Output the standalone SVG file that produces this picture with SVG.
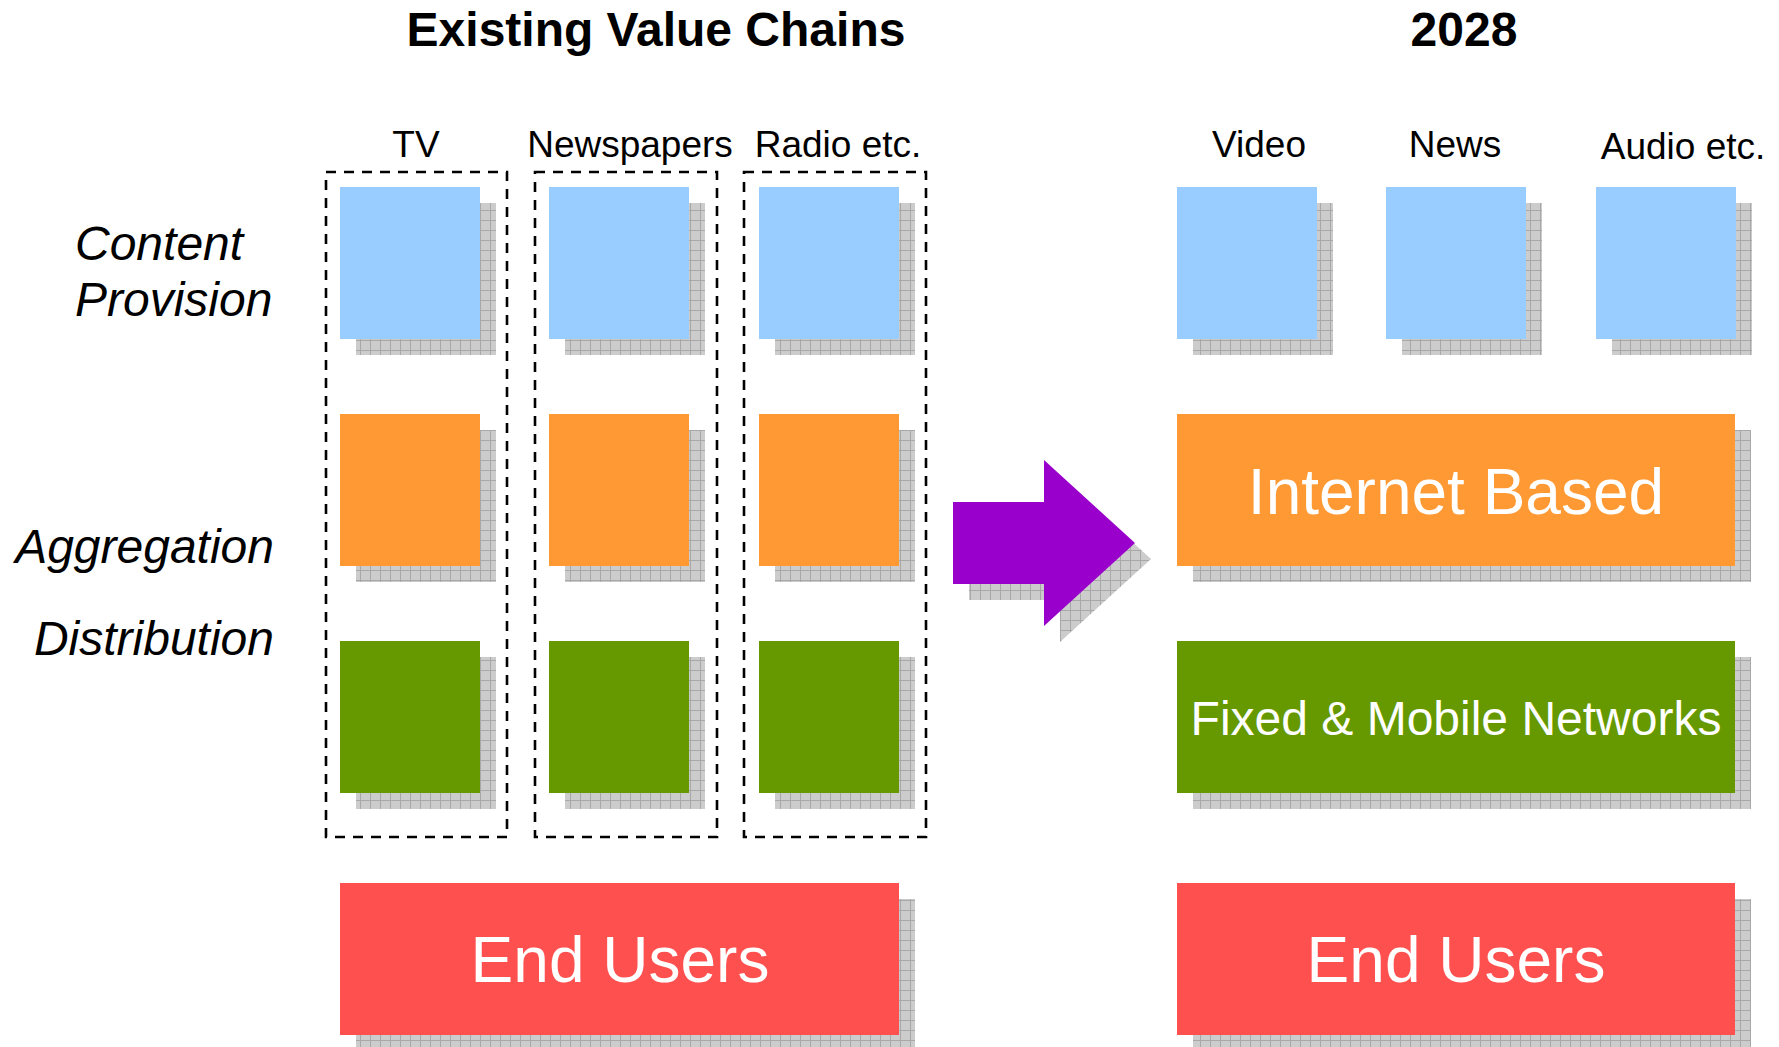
<svg xmlns="http://www.w3.org/2000/svg" width="1779" height="1047" viewBox="0 0 1779 1047">
  <defs>
    <!-- grey grid fill used for the drop shadows -->
    <pattern id="grid" width="10" height="10" patternUnits="userSpaceOnUse">
      <rect width="10" height="10" fill="#cccccc"/>
      <path d="M0 0.5H10M0.5 0V10" stroke="#a8a8a8" stroke-width="1" fill="none"/>
    </pattern>
  </defs>
  <style>
    .shadow { fill: url(#grid); }
    .blue { fill: #99ccff; }
    .orange { fill: #ff9933; }
    .green { fill: #669900; }
    .red { fill: #ff5050; }
    .chain { fill: none; stroke: #000; stroke-width: 2.6; stroke-dasharray: 10 8; }
    .title { font-family: "Liberation Sans", Arial, sans-serif; font-weight: bold; font-size: 48px; fill: #000; text-anchor: middle; }
    .col { font-family: "Liberation Sans", Arial, sans-serif; font-size: 37px; fill: #000; text-anchor: middle; }
    .row { font-family: "Liberation Sans", Arial, sans-serif; font-style: italic; font-size: 48px; fill: #000; }
    .big { font-family: "Liberation Sans", Arial, sans-serif; font-size: 64px; fill: #fff; text-anchor: middle; }
    .mid { font-family: "Liberation Sans", Arial, sans-serif; font-size: 48px; fill: #fff; text-anchor: middle; }
  </style>

  <rect width="1779" height="1047" fill="#fff"/>

  <!-- headings -->
  <g id="headings">
    <text class="title" x="656" y="46">Existing Value Chains</text>
    <text class="title" x="1464" y="46">2028</text>
  </g>

  <!-- row labels -->
  <g id="row-labels">
    <text class="row" x="75" y="260">Content</text>
    <text class="row" x="75" y="316">Provision</text>
    <text class="row" x="274" y="563" text-anchor="end">Aggregation</text>
    <text class="row" x="274" y="655" text-anchor="end">Distribution</text>
  </g>

  <!-- column labels -->
  <g id="column-labels">
    <text class="col" x="416" y="157">TV</text>
    <text class="col" x="630" y="157">Newspapers</text>
    <text class="col" x="838" y="157">Radio etc.</text>
    <text class="col" x="1259" y="157">Video</text>
    <text class="col" x="1455" y="157">News</text>
    <text class="col" x="1683" y="159">Audio etc.</text>
  </g>

  <!-- existing chains: TV -->
  <g id="chain-tv">
    <rect class="chain" x="326" y="172" width="181" height="665"/>
    <rect class="shadow" x="356" y="203" width="140" height="152"/>
    <rect class="blue" x="340" y="187" width="140" height="152"/>
    <rect class="shadow" x="356" y="430" width="140" height="152"/>
    <rect class="orange" x="340" y="414" width="140" height="152"/>
    <rect class="shadow" x="356" y="657" width="140" height="152"/>
    <rect class="green" x="340" y="641" width="140" height="152"/>
  </g>

  <!-- existing chains: Newspapers -->
  <g id="chain-newspapers">
    <rect class="chain" x="535" y="172" width="182" height="665"/>
    <rect class="shadow" x="565" y="203" width="140" height="152"/>
    <rect class="blue" x="549" y="187" width="140" height="152"/>
    <rect class="shadow" x="565" y="430" width="140" height="152"/>
    <rect class="orange" x="549" y="414" width="140" height="152"/>
    <rect class="shadow" x="565" y="657" width="140" height="152"/>
    <rect class="green" x="549" y="641" width="140" height="152"/>
  </g>

  <!-- existing chains: Radio -->
  <g id="chain-radio">
    <rect class="chain" x="744" y="172" width="182" height="665"/>
    <rect class="shadow" x="775" y="203" width="140" height="152"/>
    <rect class="blue" x="759" y="187" width="140" height="152"/>
    <rect class="shadow" x="775" y="430" width="140" height="152"/>
    <rect class="orange" x="759" y="414" width="140" height="152"/>
    <rect class="shadow" x="775" y="657" width="140" height="152"/>
    <rect class="green" x="759" y="641" width="140" height="152"/>
  </g>

  <!-- end users (existing) -->
  <g id="end-users-left">
    <rect class="shadow" x="356" y="899" width="559" height="152"/>
    <rect class="red" x="340" y="883" width="559" height="152"/>
    <text class="big" x="620" y="982">End Users</text>
  </g>

  <!-- transition arrow -->
  <g id="transition-arrow">
    <polygon class="shadow" points="969,518 1060,518 1060,476 1151,559 1060,642 1060,600 969,600"/>
    <polygon fill="#9900cc" points="953,502 1044,502 1044,460 1135,543 1044,626 1044,584 953,584"/>
  </g>

  <!-- 2028 content providers -->
  <g id="content-video">
    <rect class="shadow" x="1193" y="203" width="140" height="152"/>
    <rect class="blue" x="1177" y="187" width="140" height="152"/>
  </g>
  <g id="content-news">
    <rect class="shadow" x="1402" y="203" width="140" height="152"/>
    <rect class="blue" x="1386" y="187" width="140" height="152"/>
  </g>
  <g id="content-audio">
    <rect class="shadow" x="1612" y="203" width="140" height="152"/>
    <rect class="blue" x="1596" y="187" width="140" height="152"/>
  </g>

  <!-- 2028 aggregation layer -->
  <g id="internet-based">
    <rect class="shadow" x="1193" y="430" width="558" height="152"/>
    <rect class="orange" x="1177" y="414" width="558" height="152"/>
    <text class="big" x="1456" y="514">Internet Based</text>
  </g>

  <!-- 2028 distribution layer -->
  <g id="fixed-mobile-networks">
    <rect class="shadow" x="1193" y="657" width="558" height="152"/>
    <rect class="green" x="1177" y="641" width="558" height="152"/>
    <text class="mid" x="1456" y="735">Fixed &amp; Mobile Networks</text>
  </g>

  <!-- end users (2028) -->
  <g id="end-users-right">
    <rect class="shadow" x="1193" y="899" width="558" height="152"/>
    <rect class="red" x="1177" y="883" width="558" height="152"/>
    <text class="big" x="1456" y="982">End Users</text>
  </g>

  <!-- no connectors besides the transition arrow -->
  <g id="connectors"/>
</svg>
